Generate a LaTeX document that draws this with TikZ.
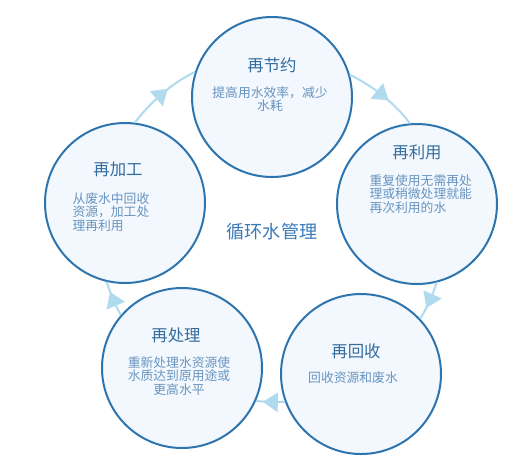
\documentclass[tikz,border=0pt]{standalone}
\usepackage{fontspec}
\setmainfont{Noto Sans CJK SC}
\usetikzlibrary{decorations.markings}

\definecolor{ringblue}{RGB}{176,218,238}
\definecolor{edgeblue}{RGB}{46,117,175}
\definecolor{fillblue}{RGB}{242,248,253}
\definecolor{titleblue}{RGB}{52,108,158}
\definecolor{bodyblue}{RGB}{104,148,192}
\definecolor{hubblue}{RGB}{58,122,184}

\tikzset{every picture/.style={line width=0.75pt}}
\tikzset{
	stage/.style={circle, draw=edgeblue, fill=fillblue, line width=1.5pt, minimum size=120pt, inner sep=0pt},
	stagetitle/.style={inner sep=0.75pt, text=titleblue, font=\fontsize{12.3}{14}\selectfont},
	stagetext/.style={inner sep=0.75pt, text=bodyblue, font=\fontsize{9.6}{10.3}\selectfont},
	hubtext/.style={inner sep=0.75pt, text=hubblue, font=\fontsize{13.6}{15}\selectfont},
	flow/.style={draw=ringblue, line width=1.5pt, looseness=0.86, postaction={decorate},
		decoration={markings, mark=at position 0.5 with {\fill[ringblue] (5.6pt,0) -- (-5.6pt,7.5pt) -- (-5.6pt,-7.5pt) -- cycle;}}},
}

\begin{document}
\begin{tikzpicture}[x=0.75pt,y=0.75pt,yscale=-1,xscale=1]
		\useasboundingbox (0,0) rectangle (516,465);
		
		%Stages
		\node[stage] (jieyue) at (272,97) {};
		\node[stage] (liyong) at (417,204) {};
		\node[stage] (huishou) at (361,374) {};
		\node[stage] (chuli) at (182,368) {};
		\node[stage] (jiagong) at (125,203) {};
		
		%Ring segments between stages
		\draw[flow] (jieyue.16.4) to[out=26.7, in=-127.2] (liyong.95.9);
		\draw[flow] (liyong.-76.4) to[out=107.8, in=-58.7] (huishou.43.6);
		\draw[flow] (huishou.-160) to[out=175.1, in=5.4] (chuli.-24.5);
		\draw[flow] (chuli.139.3) to[out=-120.1, in=72.6] (jiagong.-103.8);
		\draw[flow] (jiagong.83.6) to[out=-52.4, in=154.2] (jieyue.162.8);
		
		\node[stagetitle] (jieyuet) at (272,65) {再节约};
		\node[stagetext, align=center] (jieyueb) at (270,99) {提高用水效率，减少\\水耗};
		\node[stagetitle] (liyongt) at (417,152) {再利用};
		\node[stagetext, align=left, anchor=west] (liyongb) at (368,194) {重复使用无需再处\\理或稍微处理就能\\再次利用的水};
		\node[stagetitle] (huishout) at (356,351) {再回收};
		\node[stagetext] (huishoub) at (353,378) {回收资源和废水};
		\node[stagetitle] (chulit) at (176,335) {再处理};
		\node[stagetext, align=center] (chulib) at (179,376) {重新处理水资源使\\水质达到原用途或\\更高水平};
		\node[stagetitle] (jiagongt) at (118,169) {再加工};
		\node[stagetext, align=left, anchor=west] (jiagongb) at (71,212) {从废水中回收\\资源，加工处\\理再利用};
		
		\node[hubtext] (hub) at (272,232) {循环水管理};
		
	\end{tikzpicture}
\end{document}
